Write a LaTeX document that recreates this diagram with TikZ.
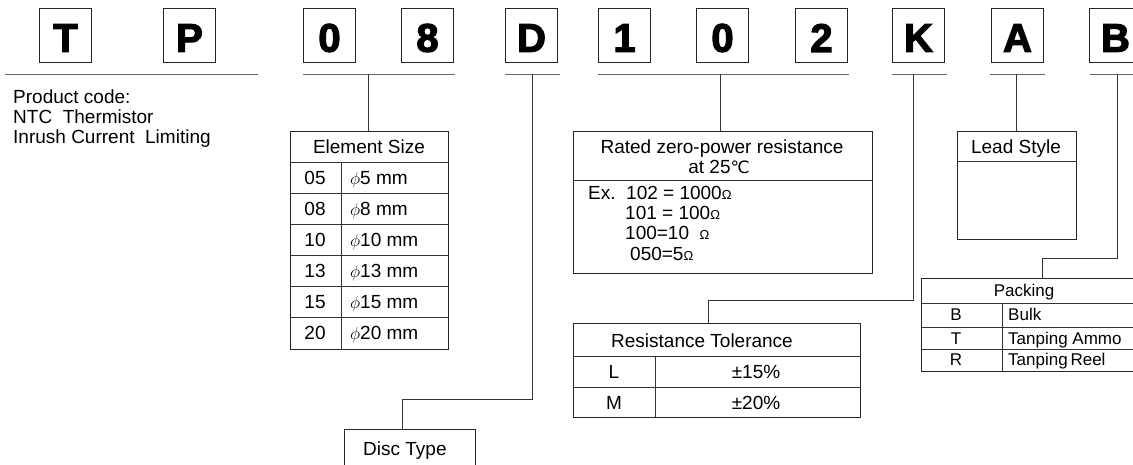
\documentclass[tikz,border=0pt]{standalone}
\usepackage{fontspec}
\setmainfont{Liberation Sans}
\newfontfamily\blk[FakeBold=3]{Liberation Sans Bold}
\newfontfamily\dejavu{DejaVu Sans}
\newcommand{\ohm}{{\fontsize{13}{13}\selectfont Ω}}
\newcommand{\phisym}{{\fontsize{17}{17}\selectfont$\phi$}}
\begin{document}
\begin{tikzpicture}[x=1pt,y=-1pt,
  letterbox/.style={draw=black!85, line width=1pt, minimum width=52pt, minimum height=54pt, anchor=north west, inner sep=0pt},
  lettertxt/.style={inner sep=0pt, font=\blk\fontsize{40}{40}\selectfont},
  frame/.style={draw=black!85, line width=1pt, anchor=north west, inner sep=0pt},
  uline/.style={draw=black!60, line width=1pt},
  conn/.style={draw=black!80, line width=1pt},
  grid/.style={draw=black!80, line width=1pt},
  txt/.style={anchor=base, inner sep=0pt, font=\fontsize{19}{20}\selectfont},
  txtl/.style={anchor=base west, inner sep=0pt, font=\fontsize{19}{20}\selectfont},
  stxt/.style={anchor=base, inner sep=0pt, font=\fontsize{17}{18}\selectfont},
  stxtl/.style={anchor=base west, inner sep=0pt, font=\fontsize{17}{18}\selectfont}
]
\clip (0,0) rectangle (1133,464);
\fill[white] (0,0) rectangle (1133,464);

% code letters
\foreach \x/\c/\n in {39/T/lT, 163/P/lP, 303/0/lZa, 401/8/lE, 505/D/lD, 598/1/lO, 696/0/lZb, 795/2/lW, 892/K/lK, 991/A/lA, 1089/B/lB} {
  \node[letterbox] (\n) at (\x,8) {};
  \node[lettertxt] (\n t) at ([yshift=-2.5pt]\n.center) {\c};
}

% underlines
\draw[uline] (5,74) -- (258,74);
\draw[uline] (303,74) -- (455,74);
\draw[uline] (505,74) -- (560,74);
\draw[uline] (598,74) -- (849,74);
\draw[uline] (892,74) -- (947,74);
\draw[uline] (990,74) -- (1045,74);
\draw[uline] (1090,74) -- (1140,74);

\coordinate (j08) at (368,74);
\coordinate (jD) at (532,74);
\coordinate (j102) at (720,74);
\coordinate (jK) at (913,74);
\coordinate (jA) at (1016,74);
\coordinate (jB) at (1117,74);
\coordinate (bendD) at (402,399);
\coordinate (bendK) at (708,300);
\coordinate (bendB) at (1042,258);

% product code
\node[txtl] (pc1) at (13,103) {Product code:};
\node[txtl] (pc2) at (13,123) {NTC\ \ Thermistor};
\node[txtl] (pc3) at (13,143) {Inrush Current\ \ Limiting};

% Element size table
\node[frame, minimum width=158pt, minimum height=218pt] (es) at (290,131) {};
\foreach \y in {162,193,224,255,286,317} \draw[grid] (290,\y) -- (448,\y);
\draw[grid] (341,162) -- (341,349);
\node[txt] (esh) at (369,153) {Element Size};
\foreach \b/\c/\v [count=\i] in {184/05/5, 215/08/8, 246/10/10, 277/13/13, 308/15/15, 339/20/20} {
  \node[txt] (esc\i) at (315,\b) {\c};
  \node[txtl] (esv\i) at (350,\b) {\phisym\v\ mm};
}

% Rated zero-power resistance
\node[frame, minimum width=299pt, minimum height=142pt] (rz) at (573,131) {};
\draw[grid] (573,180) -- (872,180);
\node[txt] (rz1) at (722,153) {Rated zero-power resistance};
\node[txt] (rz2) at (719,173) {at 25{\dejavu\fontsize{17}{17}\selectfont ℃}};
\node[txtl] (rzex) at (588,199) {Ex.};
\node[txtl] (rze1) at (626,199) {102 = 1000\ohm};
\node[txtl] (rze2) at (625,219) {101 = 100\ohm};
\node[txtl] (rze3) at (625,239) {100=10\ \ \ohm};
\node[txtl] (rze4) at (630,260) {050=5\ohm};

% Lead style
\node[frame, minimum width=119pt, minimum height=108pt] (ls) at (957,131) {};
\draw[grid] (957,161) -- (1076,161);
\node[txt] (lsh) at (1016,153) {Lead Style};

% Resistance tolerance
\node[frame, minimum width=287pt, minimum height=94pt] (rt) at (573,323) {};
\draw[grid] (573,356) -- (860,356);
\draw[grid] (573,387) -- (860,387);
\draw[grid] (655,356) -- (655,417);
\node[txt] (rth) at (702,347) {Resistance Tolerance};
\node[txt] (rtl) at (614,378) {L};
\node[txt] (rtm) at (614,409) {M};
\node[txt] (rtlv) at (756,378) {±15\%};
\node[txt] (rtmv) at (756,409) {±20\%};

% Packing
\node[frame, minimum width=219pt, minimum height=93pt] (pk) at (921,278) {};
\foreach \y in {303,327,349} \draw[grid] (921,\y) -- (1140,\y);
\draw[grid] (1002,303) -- (1002,371);
\node[stxt] (pkh) at (1024,296) {Packing};
\node[stxt] (pkb) at (956,320) {B};
\node[stxt] (pkt) at (956,344) {T};
\node[stxt] (pkr) at (956,365) {R};
\node[stxtl] (pkbv) at (1008,320) {Bulk};
\node[stxtl] (pktv) at (1008,344) {Tanping Ammo};
\node[stxtl] (pkrv) at (1008,365) {Tanping\,Reel};

% Disc type
\node[frame, minimum width=131pt, minimum height=60pt] (dt) at (344,429) {};
\node[txtl] (dth) at (363,455) {Disc Type};

% connectors
\draw[conn] (j08) -- (j08 |- es.north);
\draw[conn] (jD) -- (jD |- bendD) -- (bendD) -- (bendD |- dt.north);
\draw[conn] (j102) -- (j102 |- rz.north);
\draw[conn] (jK) -- (jK |- bendK) -- (bendK) -- (bendK |- rt.north);
\draw[conn] (jA) -- (jA |- ls.north);
\draw[conn] (jB) -- (jB |- bendB) -- (bendB) -- (bendB |- pk.north);
\end{tikzpicture}
\end{document}
